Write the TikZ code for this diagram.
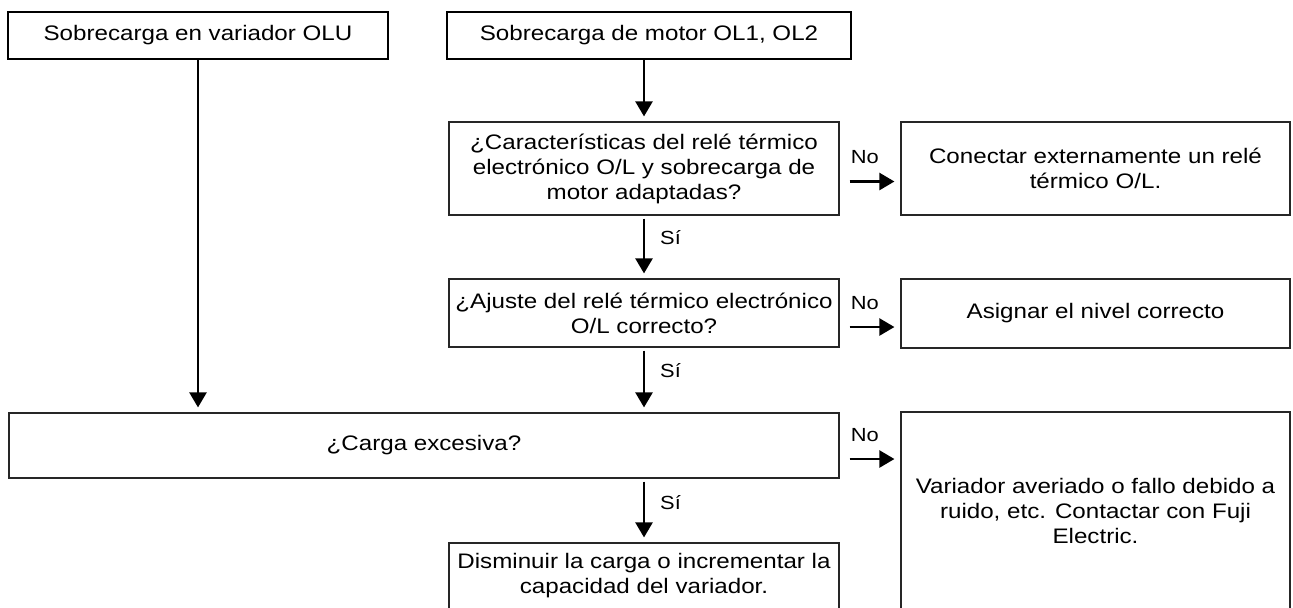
\documentclass[tikz,border=0pt]{standalone}
\usepackage{fontspec}
\setmainfont{Liberation Sans}[FakeStretch=1.15]
\usepackage{tikz}
\usetikzlibrary{arrows.meta}

\tikzset{
  box/.style={draw=black!85, line width=0.6pt, align=center, inner sep=1pt, font=\fontsize{10.5}{12.5}\selectfont},
  topbox/.style={box, draw=black, line width=1.2pt},
  arr/.style={-{Triangle[width=8.5pt,length=7.5pt]}, line width=1.2pt},
  lbl/.style={inner sep=0pt, font=\fontsize{9.5}{11}\selectfont}
}

\begin{document}
\begin{tikzpicture}[x=0.5pt,y=-0.5pt]
  \useasboundingbox (0,0) rectangle (1293,607);
  % inicio
  \node[topbox, minimum width=190pt, minimum height=23.5pt] (olu) at (198,35.5) {Sobrecarga en variador OLU};
  \node[topbox, minimum width=202pt, minimum height=23.5pt] (mot) at (649,35.5) {Sobrecarga de motor OL1, OL2};
  % preguntas
  \node[box, minimum width=195pt, minimum height=46.5pt] (car) at (644,168.5) {¿Características del relé térmico\\electrónico O/L y sobrecarga de\\motor adaptadas?};
  \node[box, minimum width=195pt, minimum height=34pt] (aju) at (644,313) {¿Ajuste del relé térmico electrónico\\O/L correcto?};
  \node[box, minimum width=415pt, minimum height=32.5pt] (exc) at (424,445.5) {¿Carga excesiva?};
  \node[box, minimum width=195pt, minimum height=33pt] (dis) at (644,576) {Disminuir la carga o incrementar la\\capacidad del variador.};
  % acciones
  \node[box, minimum width=194.5pt, minimum height=46.5pt] (ext) at (1095.5,168.5) {Conectar externamente un relé\\térmico O/L.};
  \node[box, minimum width=194.5pt, minimum height=34.5pt] (niv) at (1095.5,313.5) {Asignar el nivel correcto};
  \node[box, minimum width=194.5pt, minimum height=98.5pt] (fuj) at (1095.5,510.5) {Variador averiado o fallo debido a\\ruido, etc. Contactar con Fuji\\Electric.};
  % flechas
  \draw[arr, shorten >=2.5pt] (olu.south) -- (olu.south |- exc.north);
  \draw[arr, shorten >=2.5pt] (car.north |- mot.south) -- (car.north);
  \draw[arr, shorten <=1.5pt, shorten >=2.5pt] (car.south) -- (aju.north) node[lbl, pos=0.35, right=7.5pt]{Sí};
  \draw[arr, shorten <=1.5pt, shorten >=2.5pt] (aju.south) -- (exc.north -| aju.south) node[lbl, pos=0.35, right=7.5pt]{Sí};
  \draw[arr, shorten <=1.5pt, shorten >=2.5pt] (exc.south -| dis.north) -- (dis.north) node[lbl, pos=0.37, right=7.5pt]{Sí};
  \foreach \q/\r/\d in {car/ext/6.5pt, aju/niv/7pt, exc/fuj/6.75pt}
    \draw[arr, shorten <=5pt, shorten >=3pt] ([yshift=-\d]\q.east) -- ([yshift=-\d]\q.east -| \r.west) node[lbl, pos=0, anchor=base west, xshift=5pt, yshift=9pt]{No};
\end{tikzpicture}
\end{document}
